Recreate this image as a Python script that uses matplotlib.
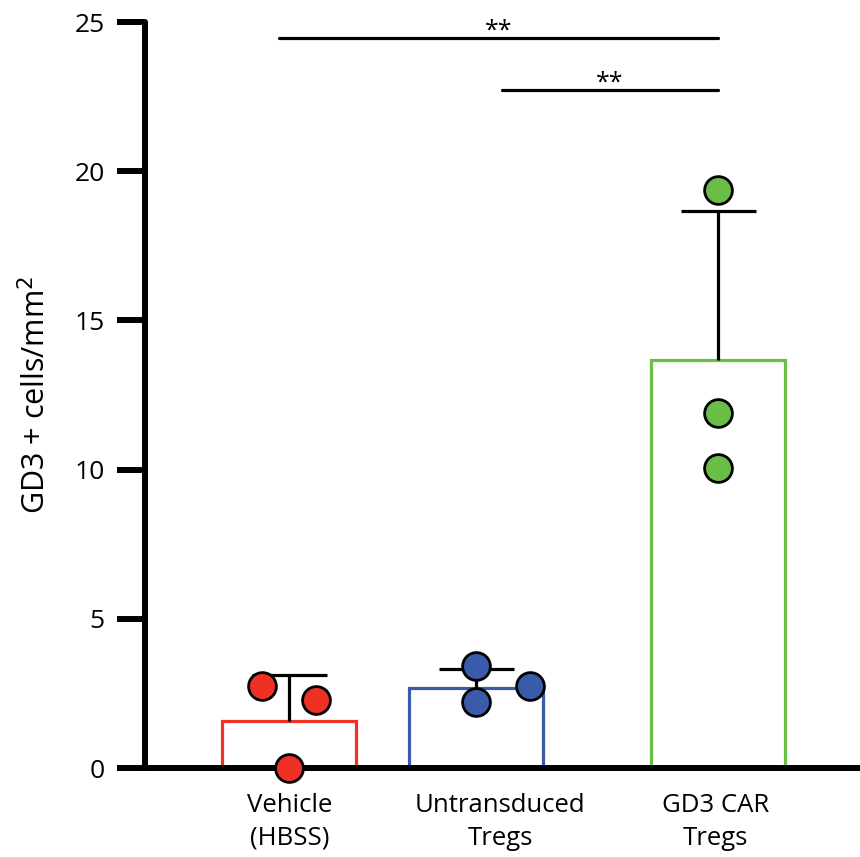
import matplotlib
matplotlib.use("Agg")
import matplotlib.pyplot as plt
import numpy as np

plt.rcParams['font.family'] = ['Open Sans', 'DejaVu Sans']

categories = ["Vehicle\n(HBSS)", "Untransduced\nTregs", "GD3 CAR\nTregs"]
means = [1.58, 2.68, 13.67]
sds = [1.54, 0.64, 5.0]
points = [[2.75, 2.28, 0.0], [3.42, 2.21, 2.75], [19.37, 11.9, 10.05]]
point_offsets = [[-0.145, 0.145, 0.0], [0.0, 0.0, 0.29], [0.0, 0.0, 0.0]]
positions = [0.0, 1.0, 2.294]
label_positions = [0.005, 1.13, 2.28]
colors = ["#EE3124", "#3A5BA9", "#6ABD45"]
sig_lines = [(-0.053, 2.294, 24.46), (1.139, 2.294, 22.72)]
sig_text = "**"

fig = plt.figure(figsize=(8.6, 8.57), dpi=100)
ax = fig.add_axes([145/860, (857-768)/857, (860-145)/860, (768-22)/857])

w = 0.717
for i in range(3):
    ax.bar(positions[i], means[i], width=w, facecolor="none", edgecolor=colors[i],
           linewidth=2.3, zorder=2)
    _, caps, _ = ax.errorbar(positions[i], means[i], yerr=[[0], [sds[i]]], fmt="none",
                             ecolor="black", elinewidth=2.3, capsize=27, capthick=2.3,
                             zorder=3)
    caps[0].set_visible(False)
    xs = [positions[i] + o for o in point_offsets[i]]
    ax.scatter(xs, points[i], s=400, color=colors[i], edgecolor="black",
               linewidth=2.0, zorder=5, clip_on=False)

for xa, xb, y in sig_lines:
    ax.plot([xa, xb], [y, y], color="black", lw=2.3, clip_on=False, zorder=4,
            solid_capstyle="round")
    ax.text((xa + xb) / 2, y - 0.2, sig_text, ha="center", va="bottom",
            fontsize=18, color="black")

ax.set_xlim(-0.770, 3.053)
ax.set_ylim(0, 25)
ax.set_yticks([0, 5, 10, 15, 20, 25])
ax.set_xticks(label_positions)
ax.set_xticklabels(categories, fontsize=18.5, linespacing=1.4)
ax.tick_params(axis="x", length=0, pad=18)
ax.tick_params(axis="y", length=20, width=4.3, labelsize=19, pad=9)
for t in ax.yaxis.get_ticklines():
    t.set_solid_capstyle("round")

for s in ["top", "right"]:
    ax.spines[s].set_visible(False)
ax.spines["left"].set_linewidth(4.3)
ax.spines["bottom"].set_linewidth(4.3)
ax.spines["left"].set_capstyle("round")
ax.spines["bottom"].set_zorder(4)

ax.set_ylabel("GD3 + cells/mm$^2$", fontsize=22, labelpad=16)

fig.savefig("out.png", dpi=100)
